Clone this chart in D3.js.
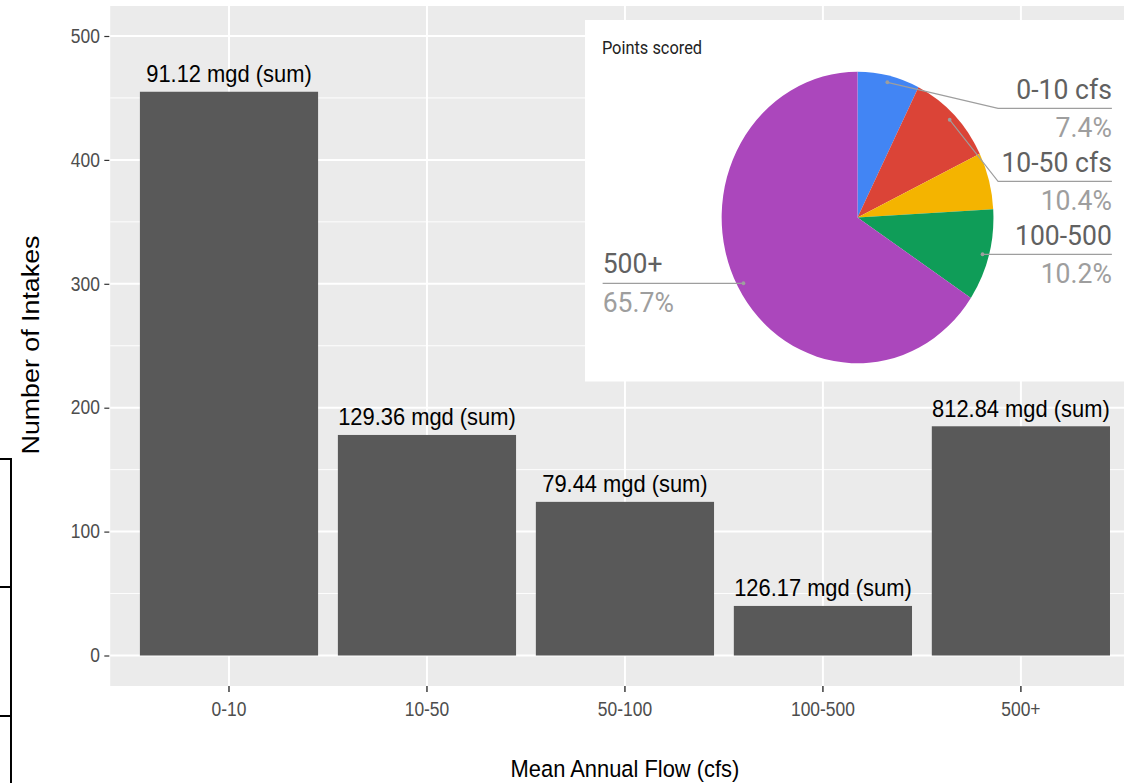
<!DOCTYPE html>
<html>
<head>
<meta charset="utf-8">
<script src="https://cdn.jsdelivr.net/npm/d3@7"></script>
<style>
  html, body { margin: 0; padding: 0; background: #ffffff; }
  svg { display: block; }
</style>
</head>
<body>
<svg id="chart" width="1124" height="783"></svg>
<script>
// ---------------- data ----------------
const categories = ["0-10", "10-50", "50-100", "100-500", "500+"];
const intakes = [455, 178, 124, 40, 185];
const barLabels = ["91.12 mgd (sum)", "129.36 mgd (sum)", "79.44 mgd (sum)", "126.17 mgd (sum)", "812.84 mgd (sum)"];
const yTicks = [0, 100, 200, 300, 400, 500];
const yMinor = [50, 150, 250, 350, 450];

const pieTitle = "Points scored";
const pieCategories = ["0-10 cfs", "10-50 cfs", "50-100 cfs", "100-500", "500+"];
const pieValues = [7.4, 10.4, 6.3, 10.2, 65.7];
const pieLabels = ["7.4%", "10.4%", "", "10.2%", "65.7%"];
const pieColors = ["#4285F4", "#DB4437", "#F4B400", "#0F9D58", "#AB47BC"];

// ---------------- layout ----------------
const SX = 0.8938;            // horizontal squeeze of the bar chart picture
const W = 1124 / SX;
const svg = d3.select("#chart");
const root = svg.append("g").attr("transform", `scale(${SX},1)`);

const panel = { left: 123.3, top: 6, bottom: 686 };
const step = 221.5;
const x = d3.scaleBand()
  .domain(categories)
  .range([panel.left, panel.left + step * 5.2])
  .paddingInner(0.1)
  .paddingOuter(0.15);
const y = d3.scaleLinear().domain([0, 500]).range([655.5, 36]);

// panel background
root.append("rect")
  .attr("x", panel.left).attr("y", panel.top)
  .attr("width", W - panel.left + 50).attr("height", panel.bottom - panel.top)
  .attr("fill", "#EBEBEB");

// grid lines
root.selectAll(".minor").data(yMinor).join("line")
  .attr("x1", panel.left).attr("x2", W + 50)
  .attr("y1", d => y(d)).attr("y2", d => y(d))
  .attr("stroke", "#ffffff").attr("stroke-width", 1);
root.selectAll(".major").data(yTicks).join("line")
  .attr("x1", panel.left).attr("x2", W + 50)
  .attr("y1", d => y(d)).attr("y2", d => y(d))
  .attr("stroke", "#ffffff").attr("stroke-width", 2);
root.selectAll(".vmajor").data(categories).join("line")
  .attr("x1", d => x(d) + x.bandwidth() / 2).attr("x2", d => x(d) + x.bandwidth() / 2)
  .attr("y1", panel.top).attr("y2", panel.bottom)
  .attr("stroke", "#ffffff").attr("stroke-width", 2.2);

// bars
root.selectAll(".bar").data(categories).join("rect")
  .attr("x", d => x(d))
  .attr("width", x.bandwidth())
  .attr("y", (d, i) => y(intakes[i]))
  .attr("height", (d, i) => y(0) - y(intakes[i]))
  .attr("fill", "#595959");

// bar labels
root.selectAll(".blabel").data(categories).join("text")
  .attr("x", d => x(d) + x.bandwidth() / 2)
  .attr("y", (d, i) => y(intakes[i]) - 9.5)
  .attr("text-anchor", "middle")
  .attr("font-family", "Liberation Sans, Arial, sans-serif")
  .attr("font-size", 24.5)
  .attr("fill", "#000000")
  .text((d, i) => barLabels[i]);

// y axis
const yAxis = d3.axisLeft(y).tickValues(yTicks).tickSize(5.6).tickPadding(5);
const gy = root.append("g").attr("transform", `translate(${panel.left - 1},0)`).call(yAxis);
gy.select(".domain").remove();
gy.selectAll(".tick line").attr("stroke", "#333333").attr("stroke-width", 1.2);
gy.selectAll(".tick text")
  .attr("font-family", "Liberation Sans, Arial, sans-serif")
  .attr("font-size", 19.5).attr("fill", "#4D4D4D");

// x axis
const xAxis = d3.axisBottom(x).tickSize(6).tickPadding(10);
const gx = root.append("g").attr("transform", `translate(0,${panel.bottom})`).call(xAxis);
gx.select(".domain").remove();
gx.selectAll(".tick line").attr("stroke", "#333333").attr("stroke-width", 1.6);
gx.selectAll(".tick text")
  .attr("font-family", "Liberation Sans, Arial, sans-serif")
  .attr("font-size", 19.5).attr("fill", "#4D4D4D");

// axis titles
root.append("text")
  .attr("x", x("50-100") + x.bandwidth() / 2).attr("y", 777)
  .attr("text-anchor", "middle")
  .attr("font-family", "Liberation Sans, Arial, sans-serif")
  .attr("font-size", 24.5).attr("fill", "#000")
  .text("Mean Annual Flow (cfs)");
root.append("text")
  .attr("transform", "translate(44,345) rotate(-90)")
  .attr("text-anchor", "middle")
  .attr("font-family", "Liberation Sans, Arial, sans-serif")
  .attr("font-size", 26.8).attr("fill", "#000")
  .text("Number of Intakes");

// bracket lines on the left edge
const bx = 12.3;
root.append("path")
  .attr("d", `M0,459 H${bx} V790 M0,587 H${bx} M0,716 H${bx}`)
  .attr("fill", "none").attr("stroke", "#000").attr("stroke-width", 2.2);

// ---------------- pie inset ----------------
const PX = 0.932;             // horizontal squeeze of the pie inset picture
const PW = 1124 / PX;
const inset = svg.append("g").attr("transform", `scale(${PX},1)`);

inset.append("rect")
  .attr("x", 585 / PX).attr("y", 20)
  .attr("width", PW - 585 / PX + 50).attr("height", 361.5)
  .attr("fill", "#ffffff");

inset.append("text")
  .attr("x", 645.8).attr("y", 54.3)
  .attr("font-family", "Roboto, sans-serif")
  .attr("font-size", 17.6).attr("fill", "#222222")
  .text(pieTitle);

const cx = 920.1, cy = 217.5, R = 145.8;
const pie = d3.pie().sort(null).value(d => d);
const arcs = pie(pieValues);
const arc = d3.arc().innerRadius(0).outerRadius(R);
const dotArc = d3.arc().innerRadius(R * 0.953).outerRadius(R * 0.953);
const gp = inset.append("g").attr("transform", `translate(${cx},${cy})`);
gp.selectAll("path").data(arcs).join("path")
  .attr("d", arc)
  .attr("fill", (d, i) => pieColors[i])
  .attr("stroke", "none");

// labels with leader lines
const lineRight = 1193.0, elbowX = 1070.9, leftX = 646.6;
const labelSpec = [
  { i: 0, side: "right", name: 99, lineY: 108.3, pct: 136.7, elbow: true },
  { i: 1, side: "right", name: 171.7, lineY: 181.3, pct: 210, elbow: true },
  { i: 3, side: "right", name: 245, lineY: 254.3, pct: 283.3, elbow: false },
  { i: 4, side: "left", name: 273.3, lineY: 283.3, pct: 311.7, elbow: false }
];
const gl = inset.append("g");
labelSpec.forEach(s => {
  const c = dotArc.centroid(arcs[s.i]);
  const dx = cx + c[0], dy = cy + c[1];
  let pts;
  if (s.side === "right") {
    pts = s.elbow ? [[dx, dy], [elbowX, s.lineY], [lineRight, s.lineY]]
                  : [[dx, s.lineY], [lineRight, s.lineY]];
  } else {
    pts = [[leftX, s.lineY], [dx, s.lineY]];
  }
  gl.append("path")
    .attr("d", d3.line()(pts))
    .attr("fill", "none").attr("stroke", "#9E9E9E").attr("stroke-width", 1.2);
  gl.append("circle")
    .attr("cx", dx).attr("cy", s.elbow ? dy : s.lineY).attr("r", 2)
    .attr("fill", "#9E9E9E");
  const tx = s.side === "right" ? lineRight : leftX;
  const anchor = s.side === "right" ? "end" : "start";
  gl.append("text")
    .attr("x", tx).attr("y", s.name)
    .attr("text-anchor", anchor)
    .attr("font-family", "Roboto, sans-serif")
    .attr("font-size", 28.5).attr("fill", "#616161")
    .text(pieCategories[s.i]);
  gl.append("text")
    .attr("x", tx).attr("y", s.pct)
    .attr("text-anchor", anchor)
    .attr("font-family", "Roboto, sans-serif")
    .attr("font-size", 28.5).attr("fill", "#9E9E9E")
    .text(pieLabels[s.i]);
});
</script>
</body>
</html>
